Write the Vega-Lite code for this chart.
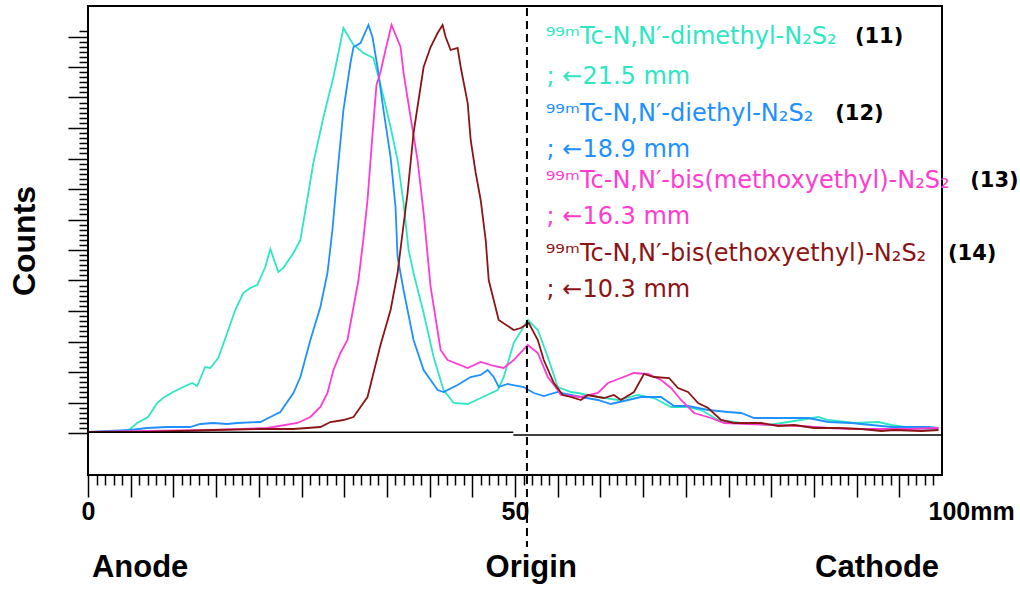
{
  "$schema": "https://vega.github.io/schema/vega-lite/v6.json",
  "width": 854,
  "height": 469,
  "autosize": {"type": "none"},
  "padding": {"left": 88, "top": 6, "right": 78, "bottom": 117},
  "background": "white",
  "config": {"view": {"stroke": "black", "strokeWidth": 2}, "font": "Liberation Sans"},
  "resolve": {"axis": {"x": "independent", "y": "independent"}},
  "datasets": {
    "curves": [
      {"compound":"11","mm":0,"counts":3},{"compound":"11","mm":3.75,"counts":3},{"compound":"11","mm":4.93,"counts":6},{"compound":"11","mm":5.75,"counts":12},{"compound":"11","mm":7.04,"counts":18},{"compound":"11","mm":8.09,"counts":32},{"compound":"11","mm":8.8,"counts":37},{"compound":"11","mm":9.97,"counts":43},{"compound":"11","mm":11.14,"counts":48},{"compound":"11","mm":12.2,"counts":52},{"compound":"11","mm":12.79,"counts":49},{"compound":"11","mm":13.72,"counts":68},{"compound":"11","mm":14.31,"counts":67},{"compound":"11","mm":15.25,"counts":77},{"compound":"11","mm":16.3,"counts":102},{"compound":"11","mm":17.24,"counts":125},{"compound":"11","mm":18.18,"counts":142},{"compound":"11","mm":19,"counts":147},{"compound":"11","mm":19.82,"counts":150},{"compound":"11","mm":20.76,"counts":168},{"compound":"11","mm":21.35,"counts":186},{"compound":"11","mm":22.29,"counts":163},{"compound":"11","mm":22.87,"counts":167},{"compound":"11","mm":24.05,"counts":182},{"compound":"11","mm":24.87,"counts":195},{"compound":"11","mm":26.39,"counts":272},{"compound":"11","mm":27.57,"counts":318},{"compound":"11","mm":28.74,"counts":358},{"compound":"11","mm":29.56,"counts":392},{"compound":"11","mm":29.91,"counts":407},{"compound":"11","mm":31.09,"counts":390},{"compound":"11","mm":32.26,"counts":382},{"compound":"11","mm":33.43,"counts":377},{"compound":"11","mm":34.02,"counts":358},{"compound":"11","mm":34.6,"counts":338},{"compound":"11","mm":35.43,"counts":308},{"compound":"11","mm":36.25,"counts":275},{"compound":"11","mm":36.95,"counts":232},{"compound":"11","mm":37.54,"counts":185},{"compound":"11","mm":38.12,"counts":162},{"compound":"11","mm":39.3,"counts":122},{"compound":"11","mm":40.47,"counts":78},{"compound":"11","mm":41.64,"counts":45},{"compound":"11","mm":42.82,"counts":32},{"compound":"11","mm":44.46,"counts":31},{"compound":"11","mm":45.98,"counts":37},{"compound":"11","mm":47.98,"counts":45},{"compound":"11","mm":48.68,"counts":58},{"compound":"11","mm":49.85,"counts":92},{"compound":"11","mm":51.5,"counts":115},{"compound":"11","mm":52.67,"counts":105},{"compound":"11","mm":53.84,"counts":78},{"compound":"11","mm":55.01,"counts":48},{"compound":"11","mm":56.54,"counts":43},{"compound":"11","mm":57.36,"counts":42},{"compound":"11","mm":59.71,"counts":38},{"compound":"11","mm":62.05,"counts":35},{"compound":"11","mm":64.4,"counts":40},{"compound":"11","mm":66.28,"counts":37},{"compound":"11","mm":68.27,"counts":28},{"compound":"11","mm":70.26,"counts":28},{"compound":"11","mm":71.79,"counts":25},{"compound":"11","mm":73.78,"counts":15},{"compound":"11","mm":76.48,"counts":12},{"compound":"11","mm":79.65,"counts":10},{"compound":"11","mm":81.99,"counts":13},{"compound":"11","mm":85.51,"counts":18},{"compound":"11","mm":86.69,"counts":15},{"compound":"11","mm":89.74,"counts":12},{"compound":"11","mm":92.55,"counts":13},{"compound":"11","mm":94.08,"counts":10},{"compound":"11","mm":96.42,"counts":7},{"compound":"11","mm":99.59,"counts":6},
      {"compound":"12","mm":0,"counts":3},{"compound":"12","mm":4.93,"counts":5},{"compound":"12","mm":6.92,"counts":7},{"compound":"12","mm":9.27,"counts":8},{"compound":"12","mm":11.96,"counts":8},{"compound":"12","mm":13.14,"counts":11},{"compound":"12","mm":14.66,"counts":12},{"compound":"12","mm":16.3,"counts":11},{"compound":"12","mm":17.48,"counts":12},{"compound":"12","mm":20.18,"counts":13},{"compound":"12","mm":21.35,"counts":18},{"compound":"12","mm":22.52,"counts":23},{"compound":"12","mm":24.05,"counts":42},{"compound":"12","mm":24.87,"counts":58},{"compound":"12","mm":26.04,"counts":95},{"compound":"12","mm":27.21,"counts":128},{"compound":"12","mm":28.04,"counts":162},{"compound":"12","mm":28.62,"counts":205},{"compound":"12","mm":29.21,"counts":262},{"compound":"12","mm":29.91,"counts":325},{"compound":"12","mm":30.73,"counts":372},{"compound":"12","mm":31.09,"counts":388},{"compound":"12","mm":31.91,"counts":392},{"compound":"12","mm":32.84,"counts":410},{"compound":"12","mm":33.31,"counts":398},{"compound":"12","mm":33.9,"counts":368},{"compound":"12","mm":34.6,"counts":325},{"compound":"12","mm":35.43,"counts":278},{"compound":"12","mm":36.01,"counts":228},{"compound":"12","mm":36.25,"counts":178},{"compound":"12","mm":36.95,"counts":145},{"compound":"12","mm":38.12,"counts":95},{"compound":"12","mm":39.3,"counts":65},{"compound":"12","mm":40.94,"counts":45},{"compound":"12","mm":41.64,"counts":43},{"compound":"12","mm":43.28,"counts":50},{"compound":"12","mm":44.81,"counts":58},{"compound":"12","mm":45.98,"counts":60},{"compound":"12","mm":46.8,"counts":65},{"compound":"12","mm":47.51,"counts":58},{"compound":"12","mm":48.09,"counts":48},{"compound":"12","mm":49.15,"counts":51},{"compound":"12","mm":51.03,"counts":48},{"compound":"12","mm":52.2,"counts":42},{"compound":"12","mm":53.37,"counts":39},{"compound":"12","mm":55.01,"counts":43},{"compound":"12","mm":55.37,"counts":42},{"compound":"12","mm":57.71,"counts":38},{"compound":"12","mm":59.71,"counts":35},{"compound":"12","mm":61.23,"counts":31},{"compound":"12","mm":63.23,"counts":35},{"compound":"12","mm":64.75,"counts":38},{"compound":"12","mm":67.1,"counts":38},{"compound":"12","mm":68.62,"counts":29},{"compound":"12","mm":70.26,"counts":29},{"compound":"12","mm":72.61,"counts":25},{"compound":"12","mm":74.96,"counts":23},{"compound":"12","mm":76.48,"counts":22},{"compound":"12","mm":78.01,"counts":17},{"compound":"12","mm":80,"counts":17},{"compound":"12","mm":81.99,"counts":17},{"compound":"12","mm":84.34,"counts":17},{"compound":"12","mm":86.69,"counts":13},{"compound":"12","mm":89.38,"counts":12},{"compound":"12","mm":91.73,"counts":10},{"compound":"12","mm":94.08,"counts":8},{"compound":"12","mm":98.42,"counts":8},{"compound":"12","mm":99.59,"counts":7},
      {"compound":"13","mm":0,"counts":3},{"compound":"13","mm":6.92,"counts":4},{"compound":"13","mm":14.66,"counts":5},{"compound":"13","mm":21,"counts":7},{"compound":"13","mm":24.52,"counts":12},{"compound":"13","mm":26.04,"counts":18},{"compound":"13","mm":27.21,"counts":28},{"compound":"13","mm":28.04,"counts":42},{"compound":"13","mm":28.74,"counts":65},{"compound":"13","mm":29.56,"counts":82},{"compound":"13","mm":30.38,"counts":95},{"compound":"13","mm":31.09,"counts":128},{"compound":"13","mm":31.67,"counts":155},{"compound":"13","mm":32.26,"counts":197},{"compound":"13","mm":32.73,"counts":235},{"compound":"13","mm":33.31,"counts":300},{"compound":"13","mm":33.78,"counts":350},{"compound":"13","mm":34.25,"counts":363},{"compound":"13","mm":34.84,"counts":385},{"compound":"13","mm":35.54,"counts":410},{"compound":"13","mm":36.6,"counts":388},{"compound":"13","mm":36.95,"counts":362},{"compound":"13","mm":37.77,"counts":318},{"compound":"13","mm":38.59,"counts":275},{"compound":"13","mm":39.3,"counts":222},{"compound":"13","mm":40.12,"counts":148},{"compound":"13","mm":41.29,"counts":85},{"compound":"13","mm":42.11,"counts":75},{"compound":"13","mm":44.46,"counts":67},{"compound":"13","mm":45.98,"counts":73},{"compound":"13","mm":47.51,"counts":69},{"compound":"13","mm":48.68,"counts":67},{"compound":"13","mm":49.85,"counts":75},{"compound":"13","mm":51.5,"counts":90},{"compound":"13","mm":52.67,"counts":82},{"compound":"13","mm":53.84,"counts":58},{"compound":"13","mm":55.01,"counts":45},{"compound":"13","mm":55.37,"counts":40},{"compound":"13","mm":57.71,"counts":38},{"compound":"13","mm":59.71,"counts":42},{"compound":"13","mm":60.88,"counts":52},{"compound":"13","mm":62.4,"counts":57},{"compound":"13","mm":63.93,"counts":62},{"compound":"13","mm":65.57,"counts":61},{"compound":"13","mm":67.1,"counts":55},{"compound":"13","mm":68.27,"counts":47},{"compound":"13","mm":69.44,"counts":35},{"compound":"13","mm":70.97,"counts":22},{"compound":"13","mm":72.96,"counts":17},{"compound":"13","mm":74.49,"counts":12},{"compound":"13","mm":77.3,"counts":11},{"compound":"13","mm":80.35,"counts":10},{"compound":"13","mm":83.52,"counts":9},{"compound":"13","mm":86.69,"counts":7},{"compound":"13","mm":89.74,"counts":6},{"compound":"13","mm":96.07,"counts":6},{"compound":"13","mm":99.59,"counts":7},
      {"compound":"14","mm":0,"counts":3},{"compound":"14","mm":6.92,"counts":3},{"compound":"14","mm":14.66,"counts":5},{"compound":"14","mm":20.18,"counts":6},{"compound":"14","mm":24.05,"counts":6},{"compound":"14","mm":27.21,"counts":8},{"compound":"14","mm":28.39,"counts":13},{"compound":"14","mm":29.91,"counts":15},{"compound":"14","mm":31.09,"counts":18},{"compound":"14","mm":31.91,"counts":28},{"compound":"14","mm":32.73,"counts":38},{"compound":"14","mm":33.43,"counts":62},{"compound":"14","mm":34.25,"counts":90},{"compound":"14","mm":35.43,"counts":125},{"compound":"14","mm":36.25,"counts":162},{"compound":"14","mm":36.83,"counts":202},{"compound":"14","mm":37.42,"counts":242},{"compound":"14","mm":38.12,"counts":302},{"compound":"14","mm":38.71,"counts":335},{"compound":"14","mm":39.3,"counts":368},{"compound":"14","mm":40.12,"counts":388},{"compound":"14","mm":40.94,"counts":402},{"compound":"14","mm":41.52,"counts":410},{"compound":"14","mm":41.88,"counts":398},{"compound":"14","mm":42.46,"counts":385},{"compound":"14","mm":43.28,"counts":387},{"compound":"14","mm":43.64,"counts":368},{"compound":"14","mm":44.46,"counts":332},{"compound":"14","mm":44.81,"counts":295},{"compound":"14","mm":45.4,"counts":262},{"compound":"14","mm":45.98,"counts":235},{"compound":"14","mm":46.57,"counts":195},{"compound":"14","mm":46.92,"counts":155},{"compound":"14","mm":48.09,"counts":115},{"compound":"14","mm":49.85,"counts":105},{"compound":"14","mm":50.67,"counts":107},{"compound":"14","mm":51.61,"counts":112},{"compound":"14","mm":52.67,"counts":95},{"compound":"14","mm":53.37,"counts":75},{"compound":"14","mm":54.55,"counts":52},{"compound":"14","mm":55.6,"counts":40},{"compound":"14","mm":56.54,"counts":38},{"compound":"14","mm":57.71,"counts":35},{"compound":"14","mm":58.53,"counts":40},{"compound":"14","mm":60.41,"counts":37},{"compound":"14","mm":61.58,"counts":40},{"compound":"14","mm":62.4,"counts":35},{"compound":"14","mm":63.93,"counts":43},{"compound":"14","mm":65.1,"counts":61},{"compound":"14","mm":66.28,"counts":58},{"compound":"14","mm":68.04,"counts":57},{"compound":"14","mm":69.09,"counts":47},{"compound":"14","mm":70.26,"counts":43},{"compound":"14","mm":71.44,"counts":32},{"compound":"14","mm":72.61,"counts":27},{"compound":"14","mm":74.13,"counts":15},{"compound":"14","mm":75.66,"counts":12},{"compound":"14","mm":78.83,"counts":12},{"compound":"14","mm":80.82,"counts":9},{"compound":"14","mm":82.7,"counts":10},{"compound":"14","mm":85.04,"counts":7},{"compound":"14","mm":87.86,"counts":7},{"compound":"14","mm":90.56,"counts":6},{"compound":"14","mm":92.9,"counts":4},{"compound":"14","mm":94.43,"counts":5},{"compound":"14","mm":97.6,"counts":4},{"compound":"14","mm":99.59,"counts":5}
    ],
    "legend": [
      {"compound":"11","text":"⁹⁹ᵐTc-N,N′-dimethyl-N₂S₂","mm":53.6,"counts":398},
      {"compound":"11","text":"; ←21.5 mm","mm":53.7,"counts":358},
      {"compound":"12","text":"⁹⁹ᵐTc-N,N′-diethyl-N₂S₂","mm":53.6,"counts":321},
      {"compound":"12","text":"; ←18.9 mm","mm":53.7,"counts":285},
      {"compound":"13","text":"⁹⁹ᵐTc-N,N′-bis(methoxyethyl)-N₂S₂","mm":53.6,"counts":254},
      {"compound":"13","text":"; ←16.3 mm","mm":53.7,"counts":218},
      {"compound":"14","text":"⁹⁹ᵐTc-N,N′-bis(ethoxyethyl)-N₂S₂","mm":53.6,"counts":181},
      {"compound":"14","text":"; ←10.3 mm","mm":53.7,"counts":145}
    ],
    "numbers": [
      {"text":"(11)","mm":89.8,"counts":398},
      {"text":"(12)","mm":87.5,"counts":321},
      {"text":"(13)","mm":103.3,"counts":254},
      {"text":"(14)","mm":100.7,"counts":181}
    ],
    "ends": [
      {"text":"Anode","mm":6.1},
      {"text":"Origin","mm":51.9},
      {"text":"Cathode","mm":92.4}
    ]
  },
  "layer": [
    {
      "data": {"name": "curves"},
      "mark": {"type": "line", "strokeWidth": 1.8, "clip": true},
      "encoding": {
        "x": {
          "field": "mm", "type": "quantitative",
          "scale": {"domain": [0, 100], "nice": false, "zero": false},
          "axis": {
            "title": null,
            "values": [0,1,2,3,4,5,6,7,8,9,10,11,12,13,14,15,16,17,18,19,20,21,22,23,24,25,26,27,28,29,30,31,32,33,34,35,36,37,38,39,40,41,42,43,44,45,46,47,48,49,50,51,52,53,54,55,56,57,58,59,60,61,62,63,64,65,66,67,68,69,70,71,72,73,74,75,76,77,78,79,80,81,82,83,84,85,86,87,88,89,90,91,92,93,94,95,96,97,98,99,100],
            "domain": false, "grid": false,
            "tickColor": "black", "tickWidth": 1.5,
            "tickSize": {"condition": {"test": "datum.value % 5 === 0", "value": 22}, "value": 10},
            "tickOpacity": {"condition": {"test": "datum.value === 100", "value": 0}, "value": 1},
            "labelExpr": "datum.value === 0 ? '0' : datum.value === 50 ? '50' : datum.value === 100 ? '100mm' : ''",
            "labelFont": "Liberation Sans", "labelFontWeight": "bold", "labelFontSize": 25, "labelColor": "black",
            "labelPadding": 2,
            "labelAlign": {"condition": {"test": "datum.value === 100", "value": "left"}, "value": "center"},
            "labelOffset": {"condition": {"test": "datum.value === 100", "value": -14}, "value": 0},
            "labelOverlap": false, "labelFlush": false, "labelBound": false
          }
        },
        "y": {
          "field": "counts", "type": "quantitative",
          "scale": {"domain": [-40, 429], "nice": false, "zero": false},
          "axis": {
            "title": "Counts",
            "values": [2,7.08,12.17,17.25,22.33,27.42,32.5,37.58,42.67,47.75,52.83,57.92,63,68.08,73.17,78.25,83.33,88.42,93.5,98.58,103.67,108.75,113.83,118.92,124,129.08,134.17,139.25,144.33,149.42,154.5,159.58,164.67,169.75,174.83,179.92,185,190.08,195.17,200.25,205.33,210.42,215.5,220.58,225.67,230.75,235.83,240.92,246,251.08,256.17,261.25,266.33,271.42,276.5,281.58,286.67,291.75,296.83,301.92,307,312.08,317.17,322.25,327.33,332.42,337.5,342.58,347.67,352.75,357.83,362.92,368,373.08,378.17,383.25,388.33,393.42,398.5,403.58],
            "domain": false, "grid": false, "labels": false,
            "tickColor": "black", "tickWidth": 1.5,
            "tickSize": {"condition": {"test": "round((datum.value - 2) / 5.0833) % 6 === 0", "value": 20}, "value": 9},
            "titleFont": "Liberation Sans", "titleFontWeight": "bold", "titleFontSize": 32, "titleColor": "black",
            "titlePadding": 26
          }
        },
        "color": {"field": "compound", "type": "nominal",
          "scale": {"domain": ["11","12","13","14"], "range": ["#2EE6C2","#1E90FF","#FF3CCF","#8B1414"]},
          "legend": null}
      }
    },
    {
      "data": {"values": [{}]},
      "mark": {"type": "rule", "color": "black", "strokeWidth": 1.5},
      "encoding": {
        "x": {"datum": 0, "type": "quantitative", "axis": null},
        "x2": {"datum": 49.8},
        "y": {"datum": 2.7, "type": "quantitative", "axis": null}
      }
    },
    {
      "data": {"values": [{}]},
      "mark": {"type": "rule", "color": "black", "strokeWidth": 1.5},
      "encoding": {
        "x": {"datum": 49.8, "type": "quantitative", "axis": null},
        "x2": {"datum": 100},
        "y": {"datum": 0, "type": "quantitative", "axis": null}
      }
    },
    {
      "data": {"values": [{}]},
      "mark": {"type": "rule", "color": "black", "strokeWidth": 2, "strokeDash": [8, 5]},
      "encoding": {
        "x": {"datum": 51.4, "type": "quantitative", "axis": null},
        "y": {"datum": 427, "type": "quantitative", "axis": null},
        "y2": {"datum": -112}
      }
    },
    {
      "data": {"name": "legend"},
      "mark": {"type": "text", "align": "left", "baseline": "middle", "font": "DejaVu Sans", "fontSize": 24},
      "encoding": {
        "x": {"field": "mm", "type": "quantitative", "axis": null},
        "y": {"field": "counts", "type": "quantitative", "axis": null},
        "text": {"field": "text"},
        "color": {"field": "compound", "type": "nominal", "legend": null}
      }
    },
    {
      "data": {"name": "numbers"},
      "mark": {"type": "text", "align": "left", "baseline": "middle", "font": "DejaVu Sans", "fontWeight": "bold", "fontSize": 21, "color": "black"},
      "encoding": {
        "x": {"field": "mm", "type": "quantitative", "axis": null},
        "y": {"field": "counts", "type": "quantitative", "axis": null},
        "text": {"field": "text"}
      }
    },
    {
      "data": {"name": "ends"},
      "mark": {"type": "text", "align": "center", "baseline": "middle", "font": "Liberation Sans", "fontWeight": "bold", "fontSize": 31, "color": "black"},
      "encoding": {
        "x": {"field": "mm", "type": "quantitative", "axis": null},
        "y": {"datum": -133, "type": "quantitative", "axis": null},
        "text": {"field": "text"}
      }
    }
  ]
}
